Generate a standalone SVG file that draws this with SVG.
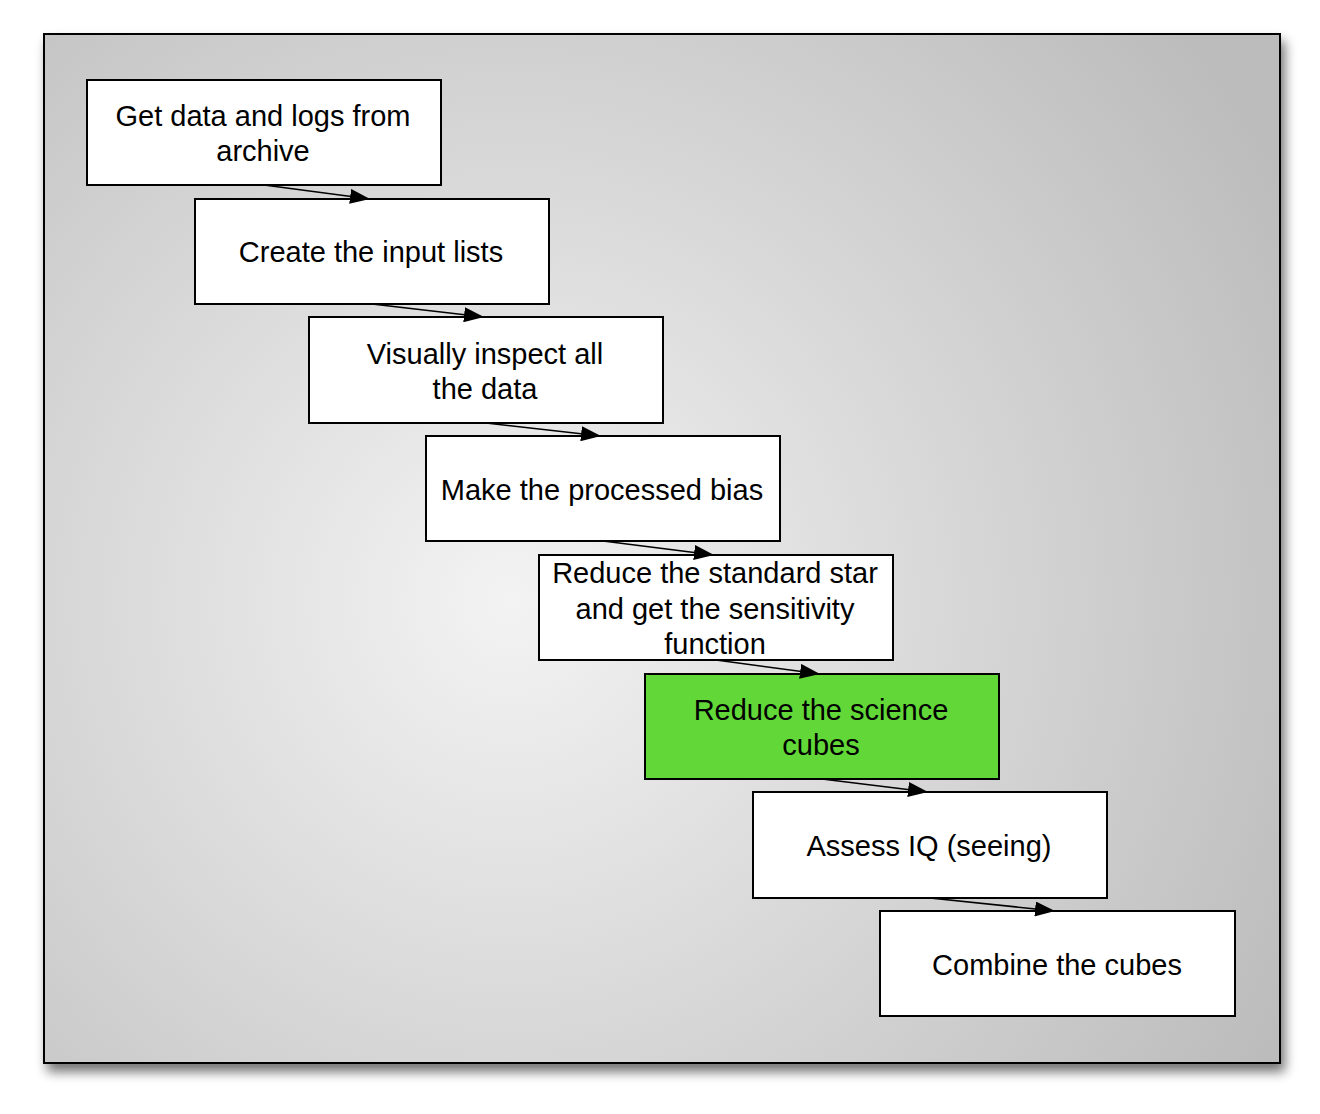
<svg xmlns="http://www.w3.org/2000/svg" width="1320" height="1114" viewBox="0 0 1320 1114">
<defs>
<radialGradient id="bg" gradientUnits="userSpaceOnUse" cx="510" cy="600" r="880">
<stop offset="0" stop-color="#f3f3f3"/>
<stop offset="1" stop-color="#bcbcbc"/>
</radialGradient>
<filter id="sh" x="-5%" y="-5%" width="115%" height="115%">
<feGaussianBlur in="SourceAlpha" stdDeviation="6"/>
<feOffset dx="4" dy="8" result="b"/>
<feComponentTransfer><feFuncA type="linear" slope="0.55"/></feComponentTransfer>
<feMerge><feMergeNode/><feMergeNode in="SourceGraphic"/></feMerge>
</filter>
<marker id="ah" markerWidth="20" markerHeight="15" refX="20" refY="7.5" orient="auto" markerUnits="userSpaceOnUse">
<path d="M0,0 L20,7.5 L0,15 Z" fill="#000"/>
</marker>
</defs>
<style>
.box{fill:#fff;stroke:#000;stroke-width:2}
.green{fill:#62d838}
.t{font-family:"Liberation Sans",Arial,sans-serif;font-size:29px;fill:#000;text-anchor:middle}
.c{stroke:#000;stroke-width:1.6;fill:none;marker-end:url(#ah)}
</style>
<rect x="44" y="34" width="1236" height="1029" fill="url(#bg)" stroke="#000" stroke-width="2" filter="url(#sh)"/>
<g id="n1"><rect class="box" x="87" y="80" width="354" height="105"/><text class="t" x="263" y="126">Get data and logs from</text><text class="t" x="263" y="161">archive</text></g>
<g id="n2"><rect class="box" x="195" y="199" width="354" height="105"/><text class="t" x="371" y="262">Create the input lists</text></g>
<g id="n3"><rect class="box" x="309" y="317" width="354" height="106"/><text class="t" x="485" y="364">Visually inspect all</text><text class="t" x="485" y="399">the data</text></g>
<g id="n4"><rect class="box" x="426" y="436" width="354" height="105"/><text class="t" x="602" y="500">Make the processed bias</text></g>
<g id="n5"><rect class="box" x="539" y="555" width="354" height="105"/><text class="t" x="715" y="583">Reduce the standard star</text><text class="t" x="715" y="619">and get the sensitivity</text><text class="t" x="715" y="654">function</text></g>
<g id="n6"><rect class="box green" x="645" y="674" width="354" height="105"/><text class="t" x="821" y="720">Reduce the science</text><text class="t" x="821" y="755">cubes</text></g>
<g id="n7"><rect class="box" x="753" y="792" width="354" height="106"/><text class="t" x="929" y="856">Assess IQ (seeing)</text></g>
<g id="n8"><rect class="box" x="880" y="911" width="355" height="105"/><text class="t" x="1057" y="975">Combine the cubes</text></g>
<g id="connectors">
<line class="c" x1="264" y1="185" x2="370" y2="199"/>
<line class="c" x1="372" y1="304" x2="484" y2="317"/>
<line class="c" x1="486" y1="423" x2="601" y2="436"/>
<line class="c" x1="603" y1="541" x2="714" y2="555"/>
<line class="c" x1="716" y1="660" x2="820" y2="674"/>
<line class="c" x1="822" y1="779" x2="928" y2="792"/>
<line class="c" x1="930" y1="898" x2="1055" y2="911"/>
</g>
</svg>
